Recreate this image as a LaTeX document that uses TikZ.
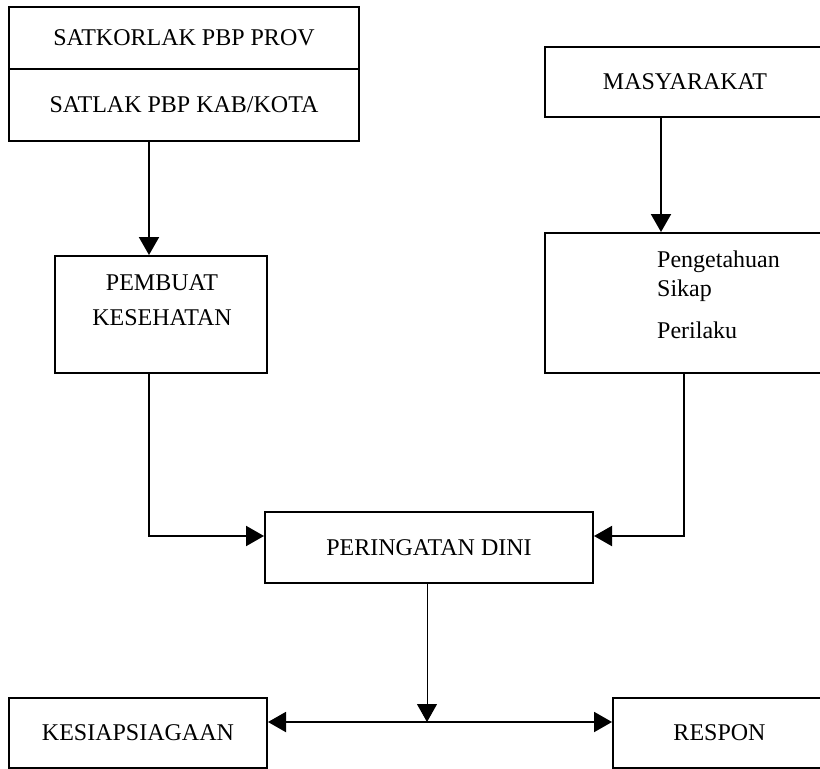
\documentclass[tikz,border=0pt]{standalone}
\usepackage{fontspec}
\setmainfont{Liberation Serif}
\usepackage{tikz}
\usetikzlibrary{arrows.meta}

\begin{document}
\begin{tikzpicture}[x=1pt, y=-1pt,
  box/.style={draw, line width=2pt, inner sep=0pt, font=\fontsize{24}{29}\selectfont},
  txt/.style={inner sep=0pt, font=\fontsize{24}{29}\selectfont},
  arr/.style={line width=2pt, -{Triangle[length=18pt, width=20pt]}}]
\useasboundingbox (0,0) rectangle (820,769);
\clip (0,0) rectangle (820,769);
\node (prov)[box, minimum width=350pt, minimum height=62pt] at (184,38) {SATKORLAK PBP PROV};
\node (kab)[box, minimum width=350pt, minimum height=72pt] at (184,105) {SATLAK PBP KAB/KOTA};
\node (masy)[box, minimum width=280pt, minimum height=70pt] at (685,82) {MASYARAKAT};
\node (pembuat)[box, minimum width=212pt, minimum height=117pt] at (161,314.5) {};
\node (pembuattext)[txt, anchor=north, align=center, font=\fontsize{24}{35}\selectfont] at (162,274) {PEMBUAT\\KESEHATAN};
\node (sikap)[box, minimum width=285pt, minimum height=140pt] at (687.5,303) {};
\node (sikaptext)[txt, anchor=north west, align=left] at (657,250.6) {Pengetahuan\\Sikap\\[13pt]Perilaku};
\node (dini)[box, minimum width=328pt, minimum height=71pt] at (429,547.5) {PERINGATAN DINI};
\node (siaga)[box, minimum width=258pt, minimum height=70pt] at (138,733) {KESIAPSIAGAAN};
\node (respon)[box, minimum width=213pt, minimum height=70pt] at (719.5,733) {RESPON};
\coordinate (lx) at (149,0);
\coordinate (rx) at (661,0);
\coordinate (sx) at (684,0);
\coordinate (my) at (0,536);
\coordinate (split) at (427,722);
\draw[arr] (kab.south -| lx) -- (pembuat.north -| lx);
\draw[arr] (masy.south -| rx) -- (sikap.north -| rx);
\draw[arr] (pembuat.south -| lx) |- (dini.west |- my);
\draw[arr] (sikap.south -| sx) |- (dini.east |- my);
\draw[arr, line width=1pt] (dini.south -| split) -- (split);
\draw[arr, {Triangle[length=18pt, width=20pt]}-{Triangle[length=18pt, width=20pt]}] (siaga.east |- split) -- (respon.west |- split);
\end{tikzpicture}
\end{document}
